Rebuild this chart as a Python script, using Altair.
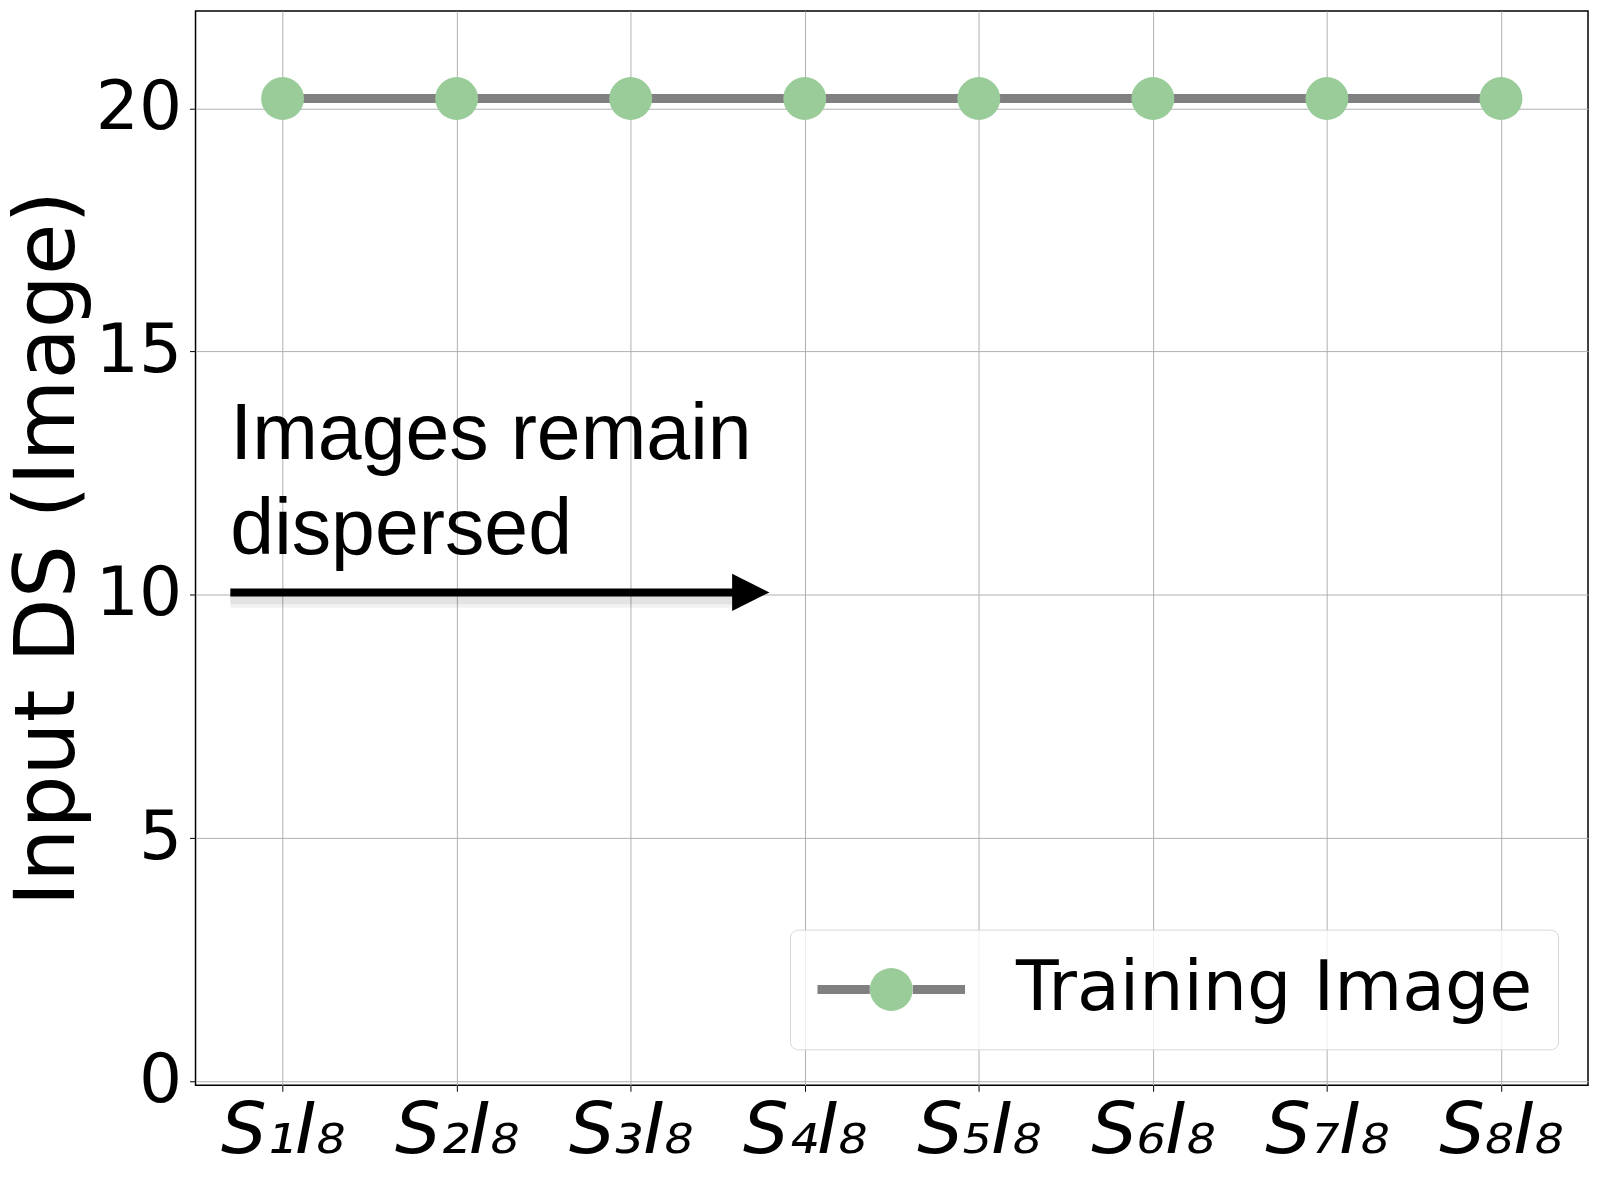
import altair as alt
import pandas as pd
import json

# ---- data ----
categories = ["S₁I₈", "S₂I₈", "S₃I₈", "S₄I₈", "S₅I₈", "S₆I₈", "S₇I₈", "S₈I₈"]
x_index = [1, 2, 3, 4, 5, 6, 7, 8]
input_ds = [20.2, 20.2, 20.2, 20.2, 20.2, 20.2, 20.2, 20.2]
series_name = "Training Image"
y_ticks = [0, 5, 10, 15, 20]

annotation_text = "Images remain\ndispersed"
annotation_x = [0.70]
annotation_y = [12.79]
arrow_x_start = [0.70]
arrow_x_end = [3.62]
arrow_head_x = [3.69]
arrow_y = [10.05]

LINE_GRAY = "#808080"
GREEN = "#9acc9a"

df = pd.DataFrame({"x": x_index, "y": input_ds, "series": [series_name] * len(x_index),
                   "series2": ["pt"] * len(x_index)})
arrow_df = pd.DataFrame({"x": arrow_x_start, "x2": arrow_x_end, "y": arrow_y})
head_df = pd.DataFrame({"x": arrow_head_x, "y": arrow_y})
text_df = pd.DataFrame({"x": annotation_x, "y": annotation_y, "t": [annotation_text]})

label_expr = json.dumps(categories, ensure_ascii=False) + "[datum.value - 1]"

x_scale = alt.Scale(domain=[0.5, 8.5], nice=False, zero=False)
y_scale = alt.Scale(domain=[-0.08, 22.0], nice=False, zero=False)

x_axis = alt.Axis(values=x_index, labelExpr=label_expr, title=None,
                  labelFontSize=72, labelFont="DejaVu Sans", labelFontStyle="italic",
                  labelColor="black", labelPadding=4, tickSize=6, tickColor="black",
                  domain=False, grid=True, gridColor="#b0b0b0", gridWidth=1)
y_axis = alt.Axis(values=y_ticks, title="Input DS (Image)", labelFontSize=68,
                  labelFont="DejaVu Sans", labelColor="black", labelPadding=8,
                  tickSize=6, tickColor="black", domain=False, grid=True,
                  gridColor="#b0b0b0", gridWidth=1, titleFontSize=84,
                  titleFont="DejaVu Sans", titleFontWeight="normal", titleColor="black",
                  titlePadding=4)

CIRCLE_SIZE = 1849  # diameter 43 px
LEG_X, LEG_Y, LEG_PAD = 596, 921, 25
leg_common = dict(title=None, orient="none", legendX=LEG_X, legendY=LEG_Y, padding=LEG_PAD,
                  symbolSize=CIRCLE_SIZE, symbolOffset=41.5, labelOffset=90,
                  labelFontSize=70, labelFont="DejaVu Sans", labelLimit=0)

base = alt.Chart(df)

line = base.mark_line(strokeWidth=9).encode(
    x=alt.X("x:Q", scale=x_scale, axis=x_axis),
    y=alt.Y("y:Q", scale=y_scale, axis=y_axis),
    stroke=alt.Stroke("series:N", scale=alt.Scale(range=[LINE_GRAY]),
                      legend=alt.Legend(symbolType="M -3.44 0 L -1 0 M 1 0 L 3.44 0",
                                        symbolStrokeWidth=9, labelColor="black",
                                        fillColor="rgba(255,255,255,0.8)",
                                        strokeColor="#d6d6d6", cornerRadius=8,
                                        **leg_common)),
)

points = base.mark_circle(size=CIRCLE_SIZE, opacity=1).encode(
    x=alt.X("x:Q", scale=x_scale),
    y=alt.Y("y:Q", scale=y_scale),
    fill=alt.Fill("series2:N", scale=alt.Scale(range=[GREEN]),
                  legend=alt.Legend(symbolType="circle", symbolStrokeWidth=0, symbolOpacity=1,
                                    labelExpr="''", **leg_common)),
)

shadow = alt.Chart(arrow_df).mark_rule(strokeWidth=16, color="black", opacity=0.05).encode(
    x="x:Q", x2="x2:Q", y=alt.Y("y:Q", scale=y_scale)
).transform_calculate(y="datum.y - 0.15")

shadow2 = alt.Chart(arrow_df).mark_rule(strokeWidth=9, color="black", opacity=0.06).encode(
    x="x:Q", x2="x2:Q", y=alt.Y("y:Q", scale=y_scale)
).transform_calculate(y="datum.y - 0.15")

arrow = alt.Chart(arrow_df).mark_rule(strokeWidth=8, color="black").encode(
    x="x:Q", x2="x2:Q", y=alt.Y("y:Q", scale=y_scale)
)

head = alt.Chart(head_df).mark_point(shape="M -1 -1 L 1 0 L -1 1 Z", size=1400,
                                     filled=True, color="black", opacity=1).encode(
    x="x:Q", y=alt.Y("y:Q", scale=y_scale)
)

text = alt.Chart(text_df).mark_text(align="left", baseline="alphabetic", font="Liberation Sans",
                                    fontSize=79, lineHeight=95, lineBreak="\n",
                                    color="black").encode(
    x="x:Q", y=alt.Y("y:Q", scale=y_scale), text="t:N"
)

chart = alt.layer(line, points, shadow, shadow2, arrow, head, text).resolve_scale(
    stroke="independent", fill="independent"
).properties(
    width=1396, height=1077,
    autosize=alt.AutoSizeParams(type="none"),
    padding={"left": 188, "top": 1.5, "right": 5, "bottom": 90},
    background="white",
).configure_view(stroke="black", strokeWidth=1.5)

chart.save("out.html", embed_options={"renderer": "svg", "actions": False})
